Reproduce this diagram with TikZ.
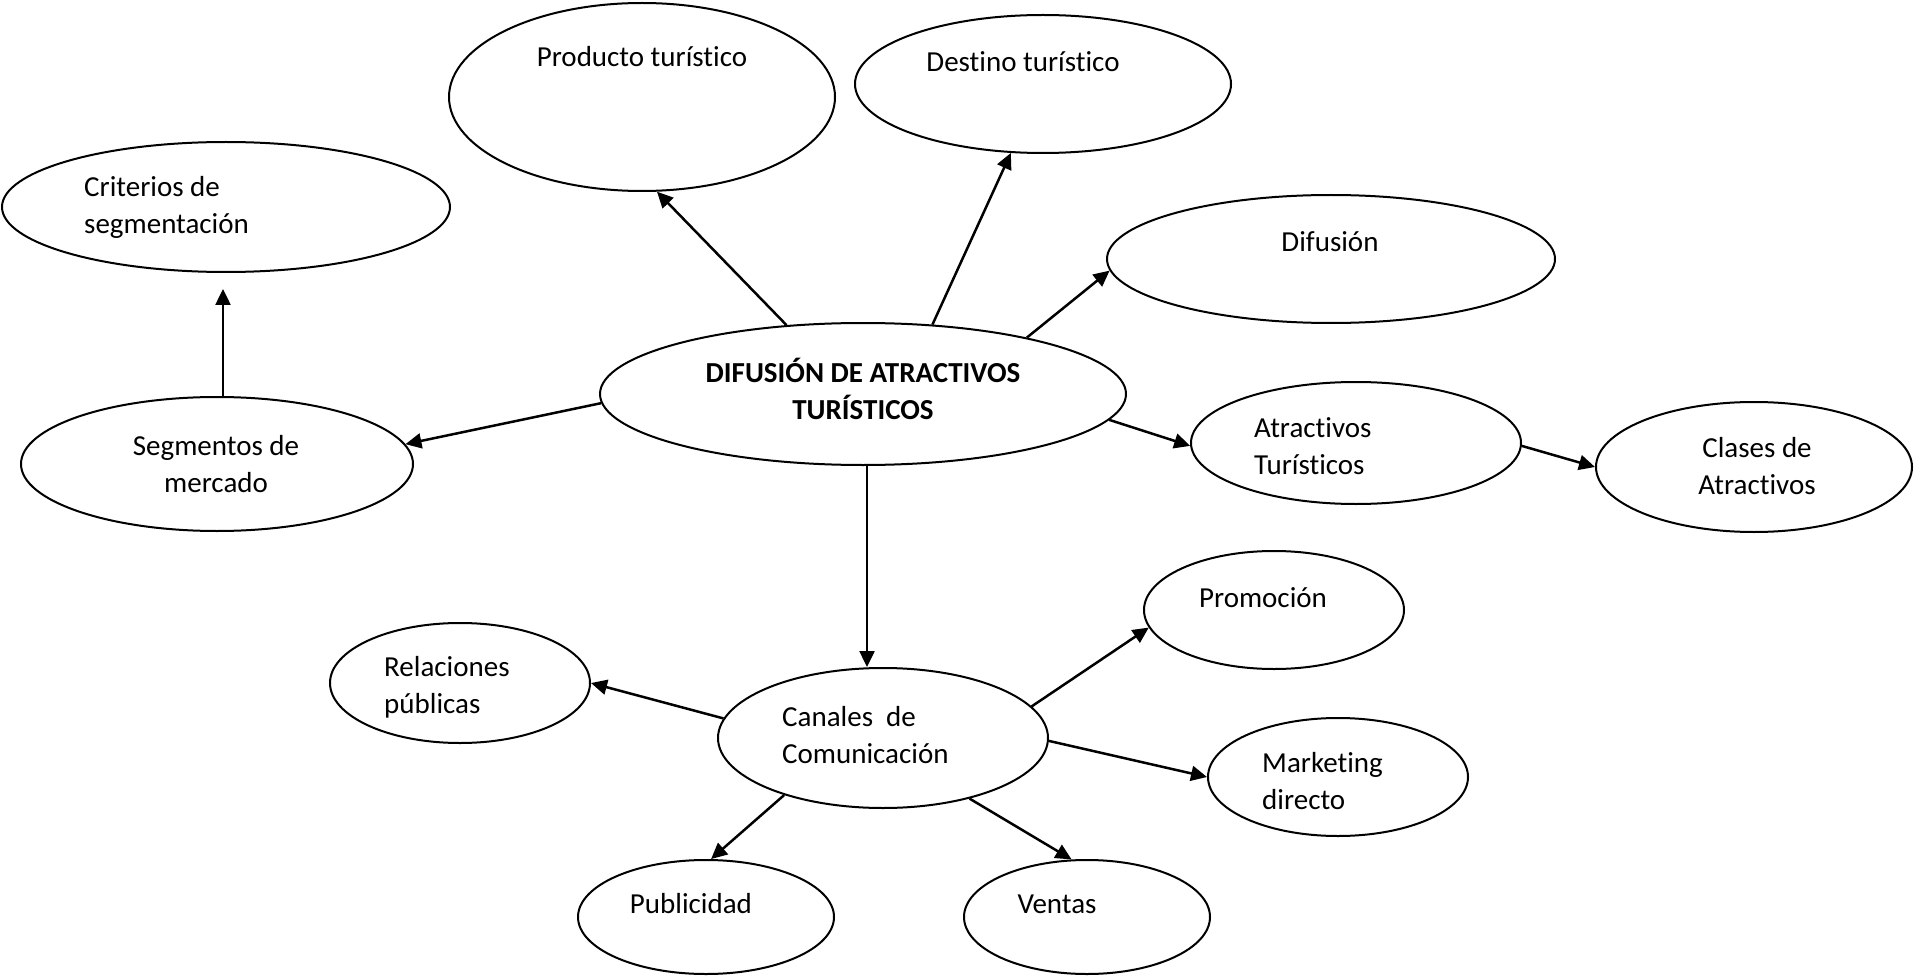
\documentclass[tikz,border=0pt]{standalone}
\usepackage{fontspec}
\setmainfont{Carlito}[Ligatures=NoCommon]
\usetikzlibrary{shapes.geometric,arrows.meta}
\begin{document}
\begin{tikzpicture}[x=1pt,y=-1pt,
  bubble/.style={ellipse, draw, line width=2pt, inner sep=0pt},
  lbl/.style={inner sep=0pt, font=\fontsize{29}{37}\selectfont},
  link/.style={line width=2.5pt, -{Triangle[length=16pt,width=15pt]}}]
\useasboundingbox (0,0) rectangle (1914,976);

% ellipses
\node[bubble, minimum width=386pt, minimum height=188pt] (prod) at (642,97) {};
\node[bubble, minimum width=376pt, minimum height=138pt] (dest) at (1043,84) {};
\node[bubble, minimum width=448pt, minimum height=130pt] (crit) at (226,207) {};
\node[bubble, minimum width=448pt, minimum height=128pt] (difu) at (1331,259) {};
\node[bubble, minimum width=526pt, minimum height=142pt] (main) at (863,394) {};
\node[bubble, minimum width=392pt, minimum height=134pt] (seg) at (217,464) {};
\node[bubble, minimum width=330pt, minimum height=122pt] (atr) at (1356,443) {};
\node[bubble, minimum width=316pt, minimum height=130pt] (clas) at (1754,467) {};
\node[bubble, minimum width=260pt, minimum height=118pt] (prom) at (1274,610) {};
\node[bubble, minimum width=260pt, minimum height=120pt] (rel) at (460,683) {};
\node[bubble, minimum width=330pt, minimum height=140pt] (can) at (883,738) {};
\node[bubble, minimum width=260pt, minimum height=118pt] (mkt) at (1338,777) {};
\node[bubble, minimum width=256pt, minimum height=114pt] (pub) at (706,917) {};
\node[bubble, minimum width=246pt, minimum height=114pt] (ven) at (1087,917) {};

% labels
\node[lbl] (prodT) at (642,57) {Producto turístico};
\node[lbl] (destT) at (1023,62) {Destino turístico};
\node[lbl, align=left, anchor=west] (critT) at (84,207) {Criterios de\\segmentación};
\node[lbl] (difuT) at (1330,242) {Difusión};
\node[lbl, align=center, font=\fontsize{29}{37}\selectfont\bfseries] (mainT) at (863,389) {DIFUSIÓN DE ATRACTIVOS\\TURÍSTICOS};
\node[lbl, align=center] (segT) at (216,464) {Segmentos de\\mercado};
\node[lbl, align=left, anchor=west] (atrT) at (1254,446) {Atractivos\\Turísticos};
\node[lbl, align=center] (clasT) at (1757,466) {Clases de\\Atractivos};
\node[lbl] (promT) at (1263,598) {Promoción};
\node[lbl, align=left, anchor=west] (relT) at (384,687) {Relaciones\\públicas};
\node[lbl, align=left, anchor=west] (canT) at (782,735) {Canales\ \ de\\Comunicación};
\node[lbl, align=left, anchor=west] (mktT) at (1262,781) {Marketing\\directo};
\node[lbl] (pubT) at (691,904) {Publicidad};
\node[lbl] (venT) at (1057,904) {Ventas};

% connectors
\draw[link] (main.138) -- (prod.279);
\draw[link] (main.45) -- (dest.245);
\draw[link] (main.19) -- (difu.183);
\draw[link] (main.182) -- (seg.6);
\draw[link] (main.354) -- (atr.181);
\draw[link] ([xshift=4pt]main.south) -- ([xshift=4pt]main.south |- can.north);
\draw[link, shorten >=16pt] ([xshift=-3pt]crit.south |- seg.north) -- ([xshift=-3pt]crit.south);
\draw[link] (atr.359) -- (clas.west);
\draw[link] (can.173) -- (rel.east);
\draw[link] (can.12) -- (prom.188);
\draw[link] (can.359) -- (mkt.west);
\draw[link] (can.210) -- (pub.85);
\draw[link] (can.325) -- (ven.105);
\end{tikzpicture}
\end{document}
